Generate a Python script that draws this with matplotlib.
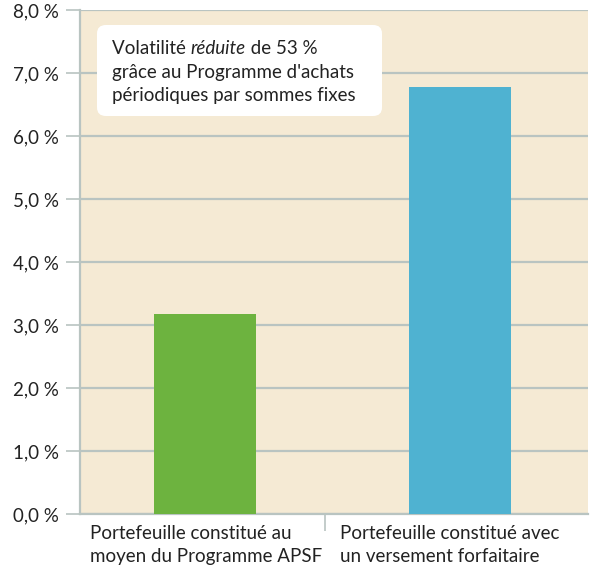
import matplotlib.pyplot as plt
from matplotlib.patches import FancyBboxPatch

categories = ["Portefeuille constitué au\nmoyen du Programme APSF",
              "Portefeuille constitué avec\nun versement forfaitaire"]
values = [3.17, 6.77]
colors = ["#6db33f", "#4fb2d1"]
yticks = [0, 1, 2, 3, 4, 5, 6, 7, 8]
ytick_labels = [("%.1f %%" % v).replace(".", ",") for v in yticks]

plt.rcParams['font.family'] = ['Lato', 'DejaVu Sans']
FS = 13.5
TXT = "#222222"

fig = plt.figure(figsize=(5.95, 5.68), dpi=100)
ax = fig.add_axes([80/595, 1 - 514/568, 508/595, 504/568])
ax.set_facecolor("#f5ead4")

ax.bar([0, 1], values, width=0.4, color=colors, zorder=3)
ax.set_xlim(-0.49, 1.5)
ax.set_ylim(0, 8)

ax.set_yticks(yticks)
ax.set_yticklabels(ytick_labels, fontsize=FS, color=TXT)
ax.grid(axis="y", color="#b9c4c1", linewidth=1.6, zorder=1)
ax.tick_params(axis="y", length=10, width=1.2, color="#b9c4c1", pad=5)

ax.set_xticks([])
ax.set_xticks([0.47], minor=True)
ax.tick_params(axis="x", which="minor", length=12, width=1.2, color="#b9c4c1")
for xpos, lab in zip([90, 340], categories):
    fig.text(xpos/595, 1 - 525/568, lab, fontsize=FS, color=TXT, ha="left",
             va="top", linespacing=1.4)

for s in ["top", "right"]:
    ax.spines[s].set_visible(False)
for s in ["left", "bottom"]:
    ax.spines[s].set_color("#b9c4c1")
    ax.spines[s].set_linewidth(1.6)

box = FancyBboxPatch((97/595, 1 - 116/568), 285/595, 91/568,
                     boxstyle="round,pad=0,rounding_size=0.015",
                     transform=fig.transFigure, facecolor="white",
                     edgecolor="none", zorder=5)
fig.patches.append(box)

y1 = 1 - 48/568
t1 = fig.text(112/595, y1, "Volatilité ", fontsize=FS, va="center", color=TXT, zorder=6)
fig.canvas.draw()
x2 = t1.get_window_extent().x1 / fig.bbox.width
t2 = fig.text(x2, y1, "réduite", fontsize=FS, va="center", style="italic", color=TXT, zorder=6)
fig.canvas.draw()
x3 = t2.get_window_extent().x1 / fig.bbox.width
fig.text(x3, y1, " de 53 %", fontsize=FS, va="center", color=TXT, zorder=6)
fig.text(112/595, 1 - 72/568, "grâce au Programme d'achats", fontsize=FS,
         va="center", color=TXT, zorder=6)
fig.text(112/595, 1 - 96/568, "périodiques par sommes fixes", fontsize=FS,
         va="center", color=TXT, zorder=6)

fig.savefig("out.png", facecolor="white")
